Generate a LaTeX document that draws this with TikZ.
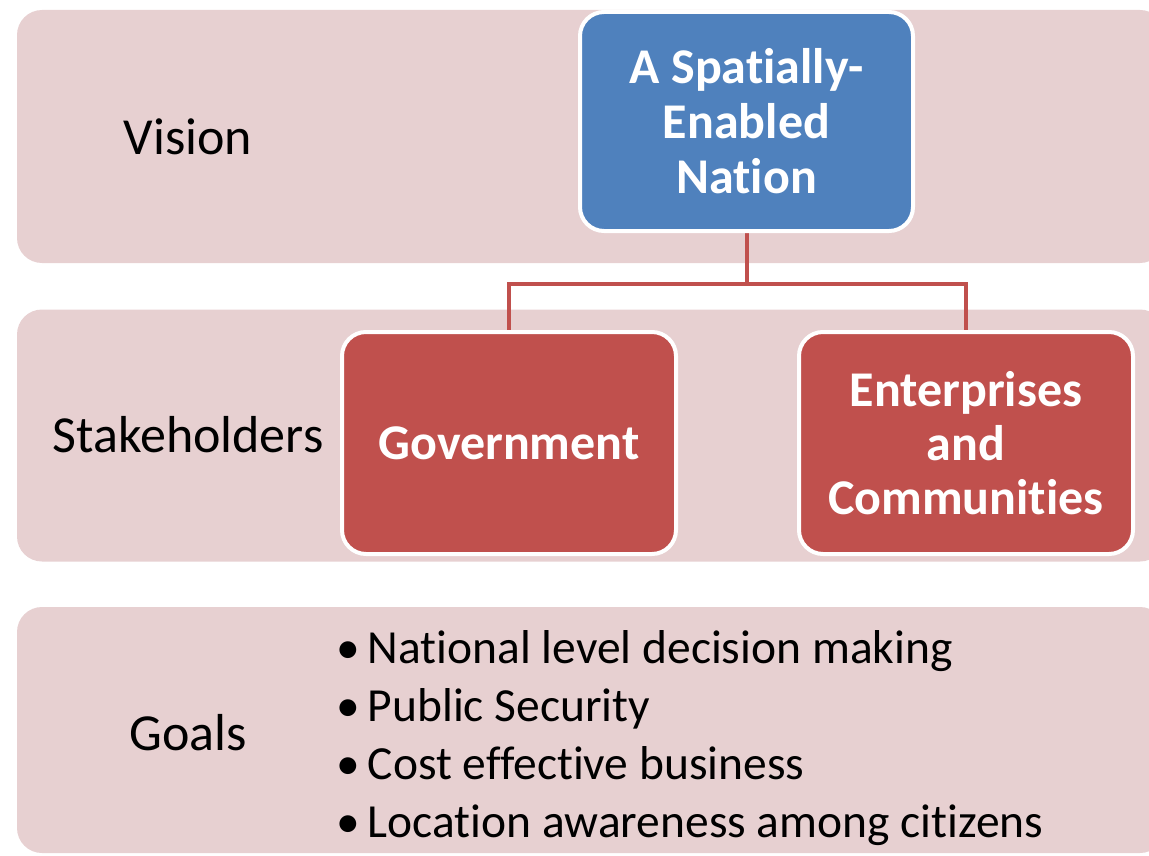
\documentclass[tikz,border=0pt]{standalone}
\usepackage{fontspec}
\setmainfont[Ligatures=NoCommon]{Carlito}
\definecolor{bandpink}{RGB}{231,208,209}
\definecolor{boxblue}{RGB}{79,129,189}
\definecolor{boxred}{RGB}{192,80,77}
\tikzset{
  band/.style={fill=bandpink, draw=none, rounded corners=25pt, inner sep=0pt},
  lbl/.style={inner sep=0pt, font=\fontsize{52}{60}\selectfont, text=black},
  topbox/.style={fill=boxblue, draw=white, line width=4pt, rounded corners=24pt, inner sep=0pt,
    text=white, align=center, font=\bfseries\fontsize{50}{55}\selectfont},
  redbox/.style={fill=boxred, draw=white, line width=4pt, rounded corners=24pt, inner sep=0pt,
    text=white, align=center, font=\bfseries\fontsize{50}{54}\selectfont},
  link/.style={draw=boxred, line width=4pt}
}
\begin{document}
\begin{tikzpicture}[x=1pt,y=-1pt]
\useasboundingbox (0,0) rectangle (1149,856);
\begin{scope}
\clip (0,0) rectangle (1149,856);
% bands
\node[band, minimum width=1148pt, minimum height=253pt] (b1) at (591,136.5) {};
\node[band, minimum width=1148pt, minimum height=252pt] (b2) at (591,435.5) {};
\node[band, minimum width=1148pt, minimum height=246pt] (b3) at (591,730) {};
\end{scope}
% labels
\node[lbl] (vision) at (188,137) {Vision};
\node[lbl] (stake) at (188,435) {Stakeholders};
\node[lbl] (goals) at (188,733) {Goals};
% connector
\coordinate (j) at (746.5,284);
\coordinate (gt) at (509,332);
\coordinate (et) at (966,332);
\draw[link] (746.5,231) -- (j);
\draw[link] (gt) |- (j) -| (et);
% boxes
\node[topbox, minimum width=333pt, minimum height=219pt] (nation) at (746.5,121.5)
  {A Spatially-\\Enabled\\Nation};
\node[redbox, minimum width=334pt, minimum height=222pt] (gov) at (509,443) {Government};
\node[redbox, minimum width=334pt, minimum height=222pt] (ent) at (966,443)
  {Enterprises\\and\\Communities};
% goals list
\node[inner sep=0pt, anchor=west, align=left, font=\fontsize{47.5}{58}\selectfont] (list) at (336,738)
  {\textbullet\,National level decision making\\
   \textbullet\,Public Security\\
   \textbullet\,Cost effective business\\
   \textbullet\,Location awareness among citizens};
\end{tikzpicture}
\end{document}
